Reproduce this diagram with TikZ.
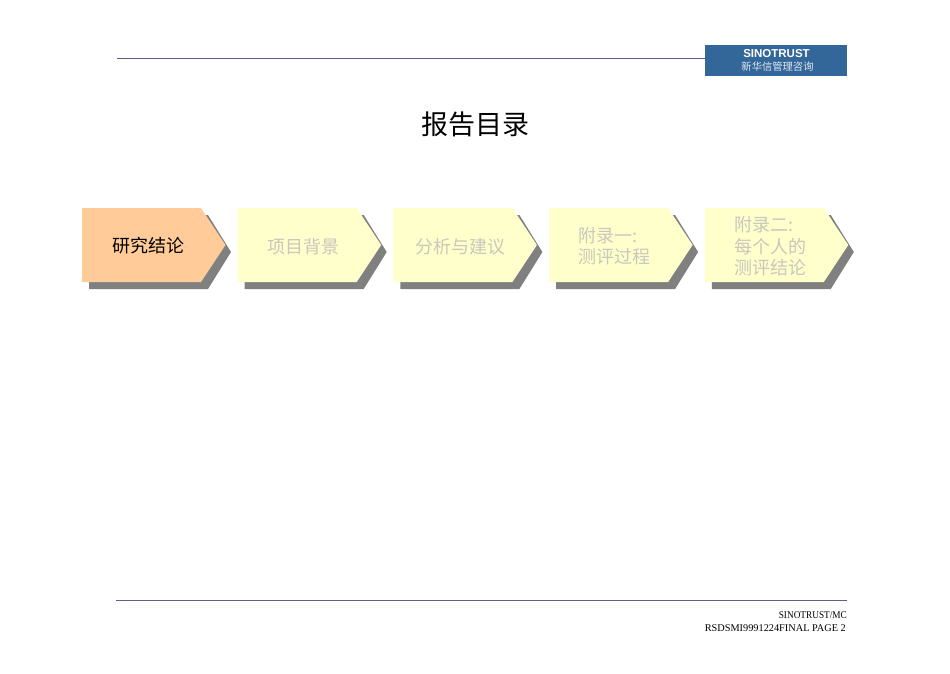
\documentclass[tikz,border=0pt]{standalone}
\usepackage{fontspec}
\setmainfont{Liberation Serif}
\newfontfamily\cjk{Noto Sans CJK SC}
\newfontfamily\logofont{Liberation Sans}
\usetikzlibrary{calc,math}
\definecolor{rulecolor}{HTML}{5F5B8F}
\definecolor{logoblue}{HTML}{336699}
\definecolor{peach}{HTML}{FFCC99}
\definecolor{palefill}{HTML}{FFFFCC}
\definecolor{shadowgray}{HTML}{808080}
\definecolor{fadedtext}{HTML}{C8C8BC}
\tikzset{
  rulestyle/.style={rulecolor,line width=0.9pt},
  steptext/.style={font=\cjk\fontsize{18}{21.6}\selectfont,text=fadedtext,align=left,inner sep=0pt},
  foottext/.style={font=\fontsize{10.3}{13.5}\selectfont,inner sep=0pt,align=right,anchor=east},
}
\begin{document}
\begin{tikzpicture}[x=1pt,y=-1pt]
  \tikzmath{
      real \stepgap;
      \stepgap=155.7;
  }
  \useasboundingbox (0,0) rectangle (950,673);
  \fill[white] (0,0) rectangle (950,673);
  % header
  \node[fill=logoblue,minimum width=142pt,minimum height=31pt,inner sep=0pt,anchor=north west] (logo) at (705,45) {};
  \node[text=white,inner sep=0pt,font=\logofont\bfseries\fontsize{11.5}{11.5}\selectfont] (logoname) at (776.5,53.5) {SINOTRUST};
  \node[text=white!85!logoblue,inner sep=0pt,font=\cjk\fontsize{10.3}{11}\selectfont] (logosub) at (777.5,67) {新华信管理咨询};
  \coordinate (topstart) at (117,58.5);
  \draw[rulestyle] (topstart) -- (topstart -| logo.west);
  \node[font=\cjk\fontsize{27}{30}\selectfont,inner sep=0pt] (title) at (475.5,124.5) {报告目录};
  % steps
  \foreach[count=\i from 0, evaluate={82+\stepgap*\i} as \xl] \xc/\steplabel in {148/{研究结论},303.5/{项目背景},460/{分析与建议},614.5/{附录一:\\测评过程},770.5/{附录二:\\每个人的\\测评结论}} {
    \fill[shadowgray] (\xl+7,215) -- (\xl+126,215) -- (\xl+149,252) -- ($(\xl+126,289)$) -- (\xl+7,289) -- cycle;
    \ifnum\i=0
      \fill[peach] (\xl,208) -- (\xl+119,208) -- (\xl+143.5,245) -- (\xl+119,282) -- (\xl,282) -- cycle;
      \node[steptext,text=black] (step\i) at (\xc,246) {\steplabel};
    \else
      \fill[palefill] (\xl,208) -- (\xl+119,208) -- (\xl+143.5,245) -- (\xl+119,282) -- (\xl,282) -- cycle;
      \node[steptext] (step\i) at (\xc,246.3) {\steplabel};
    \fi
  }
  % footer
  \coordinate (botstart) at (116,600.5);
  \coordinate (botend) at (847,600.5);
  \draw[rulestyle] (botstart) -- (botend);
  \node[foottext,xscale=0.9] (footname) at (847,615) {SINOTRUST/MC};
  \node[foottext] (footpage) at (846,628.5) {RSDSMI9991224FINAL PAGE 2};
\end{tikzpicture}
\end{document}
